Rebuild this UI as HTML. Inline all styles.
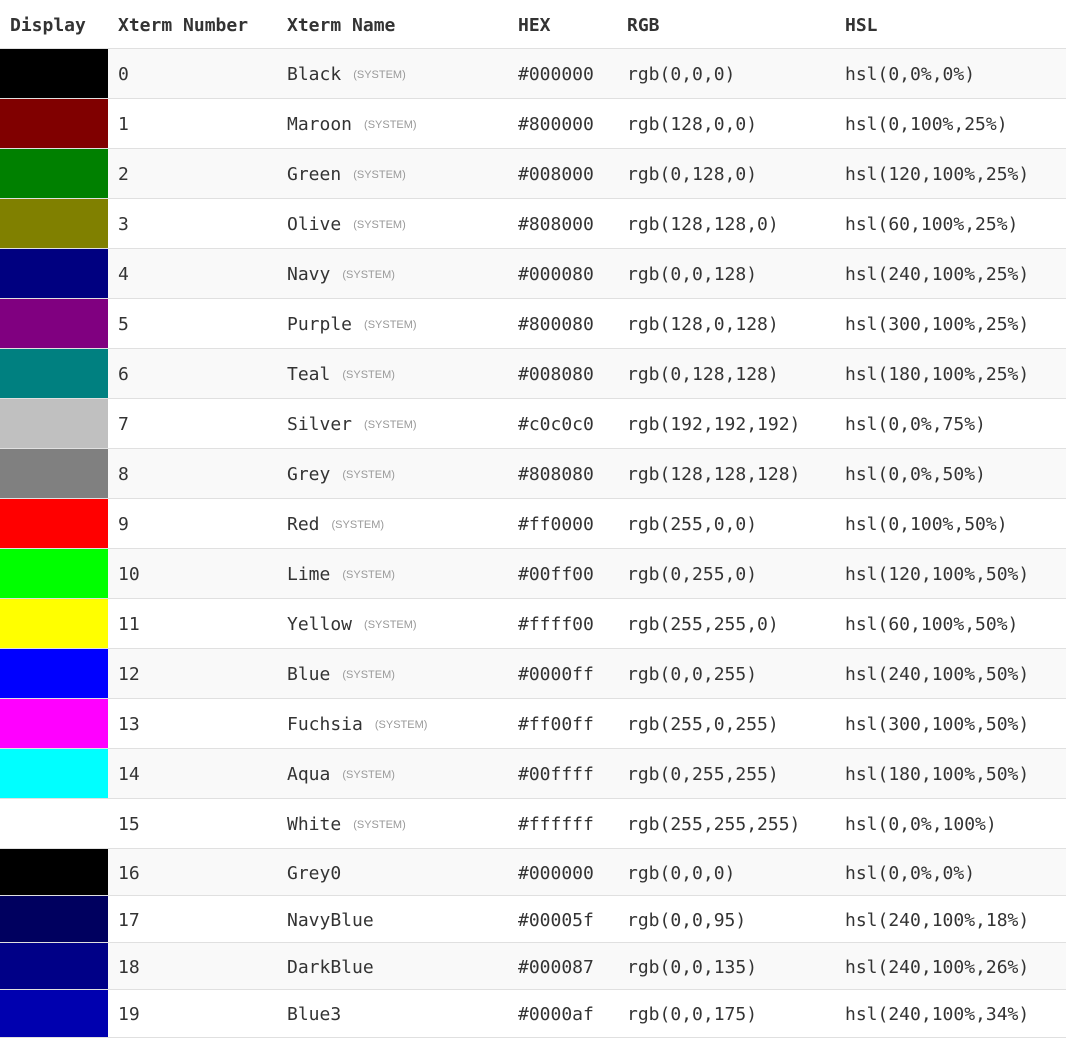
<!DOCTYPE html>
<html><head><meta charset="utf-8">
<style>
body{margin:0;width:1066px;height:1037px;overflow:hidden;background:#fff;font-family:"DejaVu Sans Mono","Liberation Mono",monospace;color:#333;font-size:18px}
.r{position:absolute;left:0;width:1066px;box-sizing:border-box;border-bottom:1px solid #e0e0e0}
.c{position:absolute;top:0;height:100%;display:flex;align-items:center;white-space:pre;box-sizing:border-box;padding-top:2px}
.sw{left:0;width:108px;padding:0}
.hd .c{font-weight:bold;padding-top:3px}
.sys{font-family:"Liberation Sans",sans-serif;font-size:11px;color:#999;margin-left:12px}
</style></head><body>
<div id="t"></div>
<script>
const names=["Black","Maroon","Green","Olive","Navy","Purple","Teal","Silver","Grey","Red","Lime","Yellow","Blue","Fuchsia","Aqua","White","Grey0","NavyBlue","DarkBlue","Blue3"];
const hexes=["#000000","#800000","#008000","#808000","#000080","#800080","#008080","#c0c0c0","#808080","#ff0000","#00ff00","#ffff00","#0000ff","#ff00ff","#00ffff","#ffffff","#000000","#00005f","#000087","#0000af"];
const rgbs=["rgb(0,0,0)","rgb(128,0,0)","rgb(0,128,0)","rgb(128,128,0)","rgb(0,0,128)","rgb(128,0,128)","rgb(0,128,128)","rgb(192,192,192)","rgb(128,128,128)","rgb(255,0,0)","rgb(0,255,0)","rgb(255,255,0)","rgb(0,0,255)","rgb(255,0,255)","rgb(0,255,255)","rgb(255,255,255)","rgb(0,0,0)","rgb(0,0,95)","rgb(0,0,135)","rgb(0,0,175)"];
const hsls=["hsl(0,0%,0%)","hsl(0,100%,25%)","hsl(120,100%,25%)","hsl(60,100%,25%)","hsl(240,100%,25%)","hsl(300,100%,25%)","hsl(180,100%,25%)","hsl(0,0%,75%)","hsl(0,0%,50%)","hsl(0,100%,50%)","hsl(120,100%,50%)","hsl(60,100%,50%)","hsl(240,100%,50%)","hsl(300,100%,50%)","hsl(180,100%,50%)","hsl(0,0%,100%)","hsl(0,0%,0%)","hsl(240,100%,18%)","hsl(240,100%,26%)","hsl(240,100%,34%)"];
const headers=["Display","Xterm Number","Xterm Name","HEX","RGB","HSL"];
const colX=[10,118,287,518,627,845];
const t=document.getElementById('t');
function cell(row,x,text,name){const c=document.createElement('div');c.className='c';c.style.left=x+'px';c.textContent=text;


row.appendChild(c);return c;}
const h=document.createElement('div');h.className='r hd';h.style.top='0px';h.style.height='50px';h.style.borderBottom='2px solid #e0e0e0';


headers.forEach((s,i)=>cell(h,colX[i],s,'header-'+s.toLowerCase().replace(/ /g,'-')));
t.appendChild(h);
let y=50;
names.forEach((n,i)=>{
  const sys=i<16;const ht=sys?50:(i==19?48:47);
  const r=document.createElement('div');r.className='r';r.style.top=(y-1)+'px';r.style.height=ht+'px';
  r.style.background=i%2==0?'#f9f9f9':'#fff';
  
  
  const sw=document.createElement('div');sw.className='c sw';sw.style.background=hexes[i];
  
  
  r.appendChild(sw);
  cell(r,colX[1],String(i),'xterm-number');
  const nc=cell(r,colX[2],n,'xterm-name');
  if(sys){const s=document.createElement('span');s.className='sys';s.textContent='(SYSTEM)';
  
  
  nc.appendChild(s);}
  cell(r,colX[3],hexes[i],'hex-value');
  cell(r,colX[4],rgbs[i],'rgb-value');
  cell(r,colX[5],hsls[i],'hsl-value');
  t.appendChild(r);y+=ht;
});
</script>
</body></html>
